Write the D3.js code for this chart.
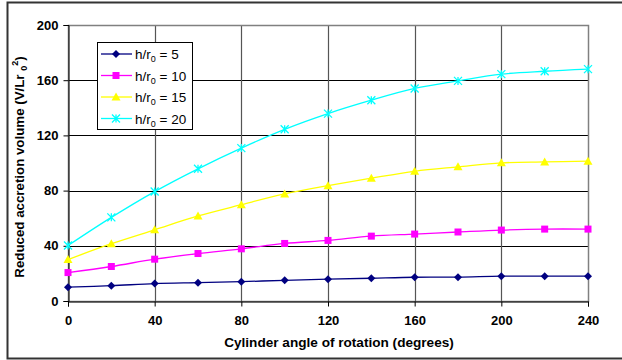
<!DOCTYPE html>
<html>
<head>
<meta charset="utf-8">
<script src="https://d3js.org/d3.v7.min.js"></script>
<style>
  body { margin: 0; background: #fff; }
  svg { font-family: "Liberation Sans", Arial, sans-serif; display: block; }
  .tick text { font-size: 13px; font-weight: bold; fill: #000; }
</style>
</head>
<body>
<svg id="chart" width="622" height="360"></svg>
<script>
// angles (degrees)
var angles = [0, 20, 40, 60, 80, 100, 120, 140, 160, 180, 200, 220, 240];
var h5  = [10, 11.1, 12.6, 13.3, 14.0, 15.0, 15.8, 16.5, 17.2, 17.3, 18.0, 18.0, 18.0];
var h10 = [20.6, 25.0, 30.3, 34.4, 37.8, 41.7, 43.9, 47.0, 48.5, 50.0, 51.4, 52.1, 52.1];
var h15 = [30.0, 41.5, 51.6, 61.6, 69.8, 77.6, 83.6, 89.0, 94.0, 97.2, 100.1, 100.8, 101.3];
var h20 = [40.2, 60.6, 79.3, 95.8, 110.8, 124.4, 135.8, 145.5, 154.0, 159.5, 164.4, 166.5, 168.0];
var xTicks = [0, 40, 80, 120, 160, 200, 240];
var yTicks = [0, 40, 80, 120, 160, 200];
var seriesNames = ["5", "10", "15", "20"];

var series = [
  { name: seriesNames[0], values: h5,  color: "#000080", marker: "diamond" },
  { name: seriesNames[1], values: h10, color: "#ff00ff", marker: "square" },
  { name: seriesNames[2], values: h15, color: "#ffff00", marker: "triangle" },
  { name: seriesNames[3], values: h20, color: "#00ffff", marker: "cross" }
];

var svg = d3.select("#chart");
var margin = { left: 68, top: 25, right: 34, bottom: 59 };
var W = 622, H = 360;

// outer frame
svg.append("rect").attr("x", 7.5).attr("y", 2.5).attr("width", 640).attr("height", 356)
  .attr("fill", "none").attr("stroke", "#333").attr("stroke-width", 2);

var x = d3.scaleLinear().domain([0, 240]).range([margin.left, W - margin.right]);
var y = d3.scaleLinear().domain([0, 200]).range([H - margin.bottom, margin.top]);

// gridlines
svg.append("g").selectAll("line").data(yTicks.slice(1, -1)).enter().append("line")
  .attr("x1", x(0)).attr("x2", x(240))
  .attr("y1", function(d) { return Math.round(y(d)) + 0.5; })
  .attr("y2", function(d) { return Math.round(y(d)) + 0.5; })
  .attr("stroke", "#000");
svg.append("g").selectAll("line").data(xTicks.slice(1, -1)).enter().append("line")
  .attr("y1", y(0)).attr("y2", y(200))
  .attr("x1", function(d) { return Math.round(x(d)) + 0.5; })
  .attr("x2", function(d) { return Math.round(x(d)) + 0.5; })
  .attr("stroke", "#555").attr("stroke-width", 1.2);

// plot border
svg.append("rect")
  .attr("x", Math.round(x(0)) + 0.5).attr("y", Math.round(y(200)) + 0.5)
  .attr("width", Math.round(x(240)) - Math.round(x(0)))
  .attr("height", Math.round(y(0)) - Math.round(y(200)))
  .attr("fill", "none").attr("stroke", "#808080").attr("stroke-width", 1.5);

// axes
svg.append("g").attr("transform", "translate(0," + (Math.round(y(0)) + 0.5) + ")")
  .call(d3.axisBottom(x).tickValues(xTicks).tickSize(5).tickPadding(9));
svg.append("g").attr("transform", "translate(" + (Math.round(x(0)) + 0.5) + ",0)")
  .call(d3.axisLeft(y).tickValues(yTicks).tickSize(5).tickPadding(5));
svg.selectAll(".domain").attr("stroke", "#000");
svg.selectAll(".tick line").attr("stroke", "#000");

// axis titles
svg.append("text").attr("x", 339).attr("y", 347).attr("text-anchor", "middle")
  .attr("font-size", 13.6).attr("font-weight", "bold")
  .text("Cylinder angle of rotation (degrees)");

var yt = svg.append("text").attr("transform", "translate(24,167) rotate(-90)")
  .attr("text-anchor", "middle").attr("font-size", 13.3).attr("font-weight", "bold");
yt.append("tspan").text("Reduced accretion volume (V/Lr ");
yt.append("tspan").attr("font-size", 9).attr("dy", 3).text("0");
yt.append("tspan").attr("font-size", 9).attr("dy", -9).text("2");
yt.append("tspan").attr("dy", 6).text(")");

// lines
var line = d3.line()
  .x(function(d, i) { return x(angles[i]); })
  .y(function(d) { return y(d); })
  .curve(d3.curveCatmullRom.alpha(0.5));

function drawMarker(g, type, color) {
  if (type === "diamond") {
    g.append("path").attr("d", "M0,-4L4,0L0,4L-4,0Z").attr("fill", color);
  } else if (type === "square") {
    g.append("rect").attr("x", -3.5).attr("y", -3.5).attr("width", 7).attr("height", 7).attr("fill", color);
  } else if (type === "triangle") {
    g.append("path").attr("d", "M0,-4.5L4.5,3.5L-4.5,3.5Z").attr("fill", color);
  } else {
    g.append("path").attr("d", "M-4,-4L4,4M-4,4L4,-4M0,-4L0,4").attr("stroke", color).attr("stroke-width", 1.3);
  }
}

series.forEach(function(s) {
  svg.append("path").attr("d", line(s.values)).attr("fill", "none")
    .attr("stroke", s.color).attr("stroke-width", 1.3);
  s.values.forEach(function(v, i) {
    var g = svg.append("g").attr("transform", "translate(" + x(angles[i]) + "," + y(v) + ")");
    drawMarker(g, s.marker, s.color);
  });
});

// legend
var lg = svg.append("g");
lg.append("rect").attr("x", 97.5).attr("y", 42.5).attr("width", 95).attr("height", 87)
  .attr("fill", "#fff").attr("stroke", "#000");
series.forEach(function(s, i) {
  var cy = 54 + i * 21.5;
  lg.append("line").attr("x1", 101).attr("x2", 132).attr("y1", cy).attr("y2", cy)
    .attr("stroke", s.color).attr("stroke-width", 1.3);
  drawMarker(lg.append("g").attr("transform", "translate(116," + cy + ")"), s.marker, s.color);
  var t = lg.append("text").attr("x", 135).attr("y", cy + 5).attr("font-size", 13.5);
  t.append("tspan").text("h/r");
  t.append("tspan").attr("font-size", 9).attr("dy", 3).text("0");
  t.append("tspan").attr("dy", -3).text(" = " + s.name);
});
</script>
</body>
</html>
